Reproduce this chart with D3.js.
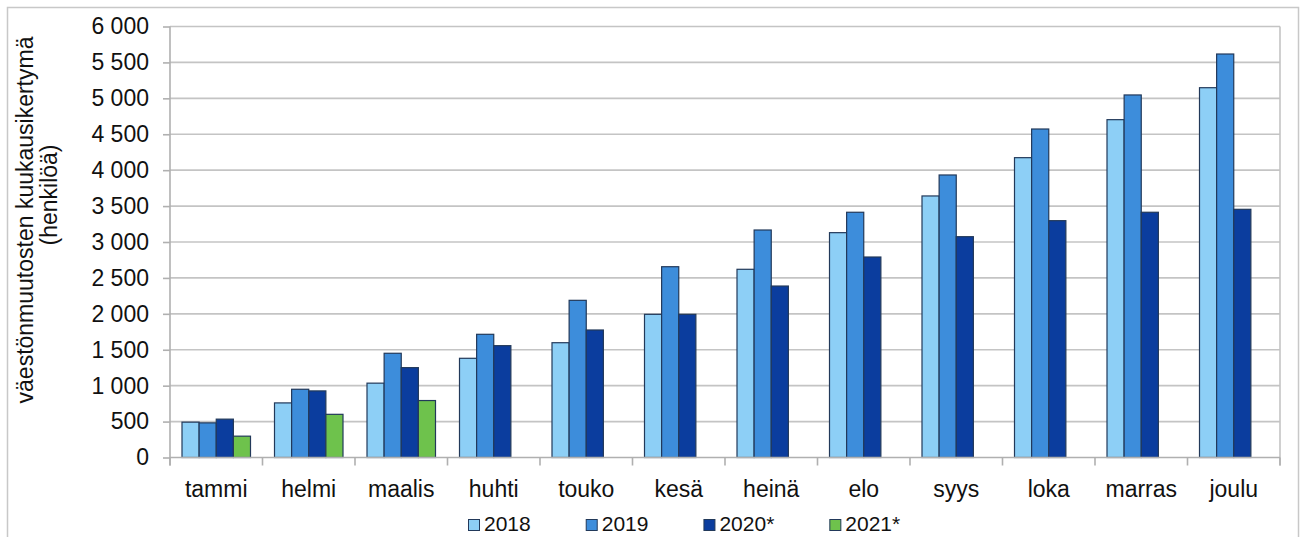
<!DOCTYPE html>
<html><head><meta charset="utf-8">
<script src="https://cdn.jsdelivr.net/npm/d3@7"></script>
<style>
body{margin:0;background:#fff;}
svg{display:block;font-family:"Liberation Sans",Arial,sans-serif;}
</style></head>
<body><svg id="c" width="1301" height="537"></svg>
<script>
const months = ["tammi","helmi","maalis","huhti","touko","kesä","heinä","elo","syys","loka","marras","joulu"];
const seriesNames = ["2018","2019","2020*","2021*"];
const v2018 = [492, 760, 1035, 1381, 1598, 1993, 2620, 3130, 3641, 4174, 4703, 5148];
const v2019 = [482, 950, 1451, 1715, 2188, 2656, 3167, 3414, 3933, 4573, 5047, 5617];
const v2020 = [534, 927, 1251, 1557, 1775, 1993, 2387, 2791, 3074, 3297, 3414, 3455];
const v2021 = [297, 601, 793, null, null, null, null, null, null, null, null, null];
const yTicks = [0,500,1000,1500,2000,2500,3000,3500,4000,4500,5000,5500,6000];
const colors = ["#8dcff6","#3d8ddb","#0b3d9e","#6ec24c"];
const titleLines = ["väestönmuutosten kuukausikertymä","(henkilöä)"];

const allSeries = [v2018, v2019, v2020, v2021];
const svg = d3.select("#c");
const L = 170, R = 1280, T = 26.5, B = 457.5;

// outer frame
svg.append("rect").attr("x",7.5).attr("y",7.5).attr("width",1291).attr("height",540)
  .attr("fill","none").attr("stroke","#c8c8c8").attr("stroke-width",1.5);

const x0 = d3.scaleBand().domain(months).range([L, R]).padding(0);
const x1 = d3.scaleBand().domain(seriesNames).range([12, x0.bandwidth()-12]).padding(0);
const y = d3.scaleLinear().domain([0,6000]).range([B, T]);

const loc = d3.formatLocale({decimal:",", thousands:"\u00a0", grouping:[3], currency:["",""]});
const fmt = loc.format(",");

// gridlines
svg.append("g").selectAll("line").data(yTicks.filter(d=>d>0)).join("line")
  .attr("x1",L).attr("x2",R).attr("y1",d=>y(d)).attr("y2",d=>y(d))
  .attr("stroke","#c4c4c4").attr("stroke-width",1.6);
// right border
svg.append("line").attr("x1",R).attr("x2",R).attr("y1",T).attr("y2",B+8)
  .attr("stroke","#c4c4c4").attr("stroke-width",1.6);

// bars
const g = svg.append("g");
months.forEach((m,i)=>{
  seriesNames.forEach((s,j)=>{
    const v = allSeries[j][i];
    if(v==null) return;
    g.append("rect")
      .attr("x", x0(m)+x1(s)).attr("width", x1.bandwidth())
      .attr("y", y(v)).attr("height", B - y(v))
      .attr("fill", colors[j]).attr("stroke","#22395a").attr("stroke-width",1.2);
  });
});

// y axis
const ya = svg.append("g").attr("transform",`translate(${L},0)`)
  .call(d3.axisLeft(y).tickValues(yTicks).tickFormat(fmt).tickSize(7).tickPadding(14));
ya.select(".domain").attr("stroke","#b0b0b0").attr("stroke-width",1.6).attr("d",`M0,${T}V${B+8}`);
ya.selectAll(".tick line").attr("stroke","#b0b0b0").attr("stroke-width",1.6);
ya.selectAll(".tick text").attr("font-size",23).attr("fill","#111").attr("font-family","Liberation Sans, Arial, sans-serif");

// x axis baseline + boundary ticks
svg.append("line").attr("x1",L).attr("x2",R).attr("y1",B).attr("y2",B)
  .attr("stroke","#b0b0b0").attr("stroke-width",1.6);
const bounds = months.map(m=>x0(m)).concat([x0.range()[1]]);
svg.append("g").selectAll("line").data(bounds).join("line")
  .attr("x1",d=>d).attr("x2",d=>d).attr("y1",B).attr("y2",B+8)
  .attr("stroke","#b0b0b0").attr("stroke-width",1.6);
const xa = svg.append("g").attr("transform",`translate(0,${B})`)
  .call(d3.axisBottom(x0).tickSize(0).tickPadding(23));
xa.select(".domain").remove();
xa.selectAll(".tick text").attr("font-size",23).attr("fill","#111").attr("font-family","Liberation Sans, Arial, sans-serif");

// y title
svg.append("text").attr("transform","translate(33,220) rotate(-90)")
  .attr("text-anchor","middle").attr("font-size",23).attr("fill","#111").text(titleLines[0]);
svg.append("text").attr("transform","translate(57,195) rotate(-90)")
  .attr("text-anchor","middle").attr("font-size",23).attr("fill","#111").text(titleLines[1]);

// legend
const lg = svg.append("g");
let lx = 468;
seriesNames.forEach((s,j)=>{
  lg.append("rect").attr("x",lx+0.5).attr("y",519.5).attr("width",11).attr("height",11)
    .attr("fill",colors[j]).attr("stroke","#22395a").attr("stroke-width",1);
  const t = lg.append("text").attr("x",lx+16).attr("y",531).attr("font-size",21).attr("fill","#111").text(s);
  const w = t.node().getComputedTextLength();
  lx = lx + 16 + w + 55;
});
</script></body></html>
